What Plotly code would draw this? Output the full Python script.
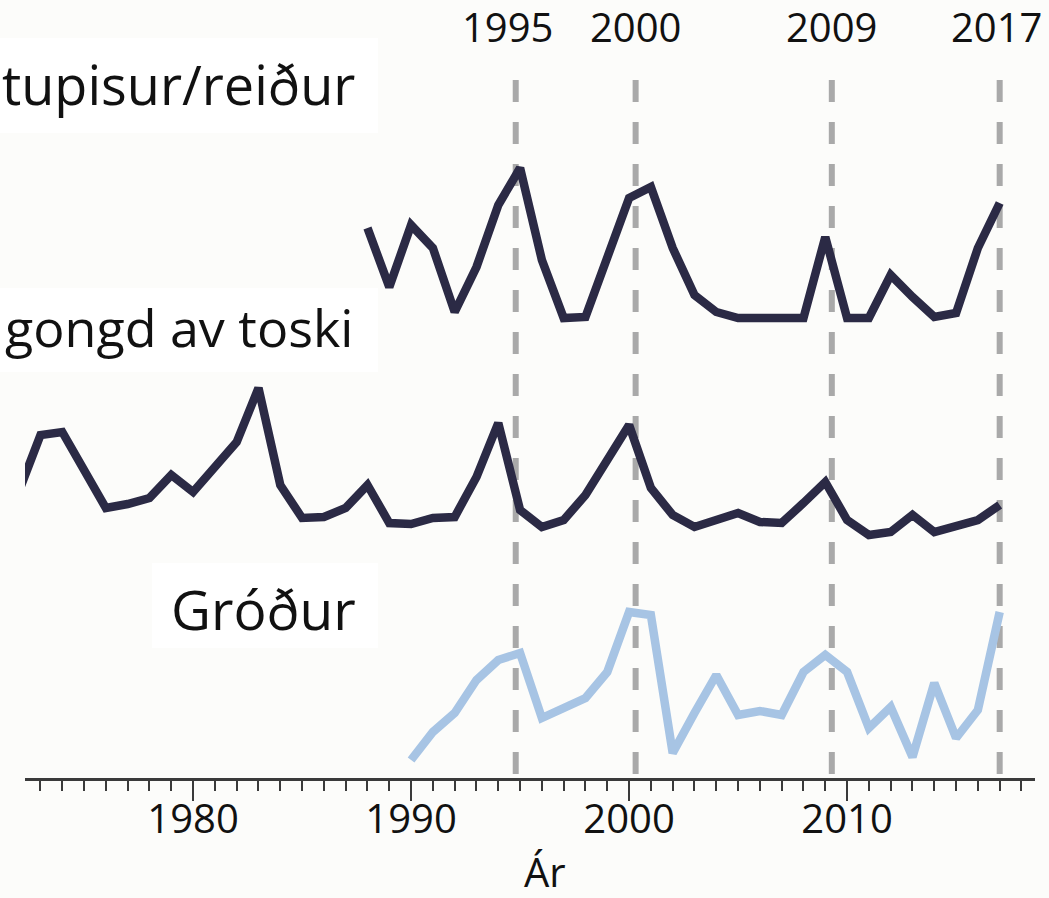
import plotly.graph_objects as go

# ---- data (heights, arbitrary index units above the axis) ----
years_top = list(range(1988, 2018))
top_vals = [550, 491, 553, 530, 466, 511, 573, 610, 518, 460, 461, 521, 580, 591,
            530, 483, 466, 460, 460, 460, 460, 541, 460, 460, 503, 481, 461, 465,
            530, 575]

years_mid = list(range(1972, 2018))
mid_vals = [286, 343, 346, 308, 270, 274, 280, 303, 286, 311, 336, 390, 293, 260,
            261, 270, 293, 255, 254, 260, 261, 301, 355, 268, 251, 258, 283, 318,
            353, 290, 263, 251, 258, 265, 256, 255, 275, 296, 258, 243, 246, 263,
            246, 251, 258, 273]

years_bot = list(range(1990, 2018))
bot_vals = [18, 46, 65, 98, 118, 125, 60, 71, 80, 106, 166, 163, 25, 65, 103, 63,
            67, 63, 106, 123, 106, 50, 71, 21, 95, 40, 68, 166]

event_x = [1994.8, 2000.3, 2009.3, 2017.0]
event_labels = ["1995", "2000", "2009", "2017"]
event_label_shift = [-8, 0, 0, -3]

series_labels = ["tupisur/reiður", "gongd av toski", "Gróður"]

xtick_vals = [1980, 1990, 2000, 2010]
xtick_text = ["1980", "1990", "2000", "2010"]

# ---- figure ----
W, H = 1049, 898
ML, MR, MT, MB = 25, 14, 0, 120
PH = H - MT - MB  # plot height in px (778)
PW = W - ML - MR

DARK = "#2b2a45"
LIGHT = "#a7c4e4"
DASH = "#a9a9a9"
BG = "#fcfcfa"
FONT = "Open Sans, Lato, sans-serif"

fig = go.Figure()
fig.add_trace(go.Scatter(x=years_top, y=top_vals, mode="lines",
                         line=dict(color=DARK, width=8.5), showlegend=False, cliponaxis=False))
fig.add_trace(go.Scatter(x=years_mid, y=mid_vals, mode="lines",
                         line=dict(color=DARK, width=8.5), showlegend=False, cliponaxis=False))
fig.add_trace(go.Scatter(x=years_bot, y=bot_vals, mode="lines",
                         line=dict(color=LIGHT, width=8.5), showlegend=False, cliponaxis=False))

def px_x(p):
    return (p - ML) / PW

def px_y(p):
    return (PH - (p - MT)) / PH

shapes = []
# white label boxes
for (x0, y0, x1, y1) in [(0, 38, 378, 133), (0, 288, 378, 372), (152, 563, 378, 648)]:
    shapes.append(dict(type="rect", xref="paper", yref="paper",
                       x0=px_x(x0), x1=px_x(x1), y0=px_y(y1), y1=px_y(y0),
                       fillcolor="white", line=dict(width=0), layer="below"))
# dashed event lines
for ex in event_x:
    shapes.append(dict(type="line", xref="x", yref="paper",
                       x0=ex, x1=ex, y0=px_y(80), y1=px_y(776),
                       line=dict(color=DASH, width=6, dash="22px,20px"), layer="below"))

annotations = []
for ex, lab, sh in zip(event_x, event_labels, event_label_shift):
    annotations.append(dict(x=ex, y=px_y(27), xref="x", yref="paper", text=lab,
                            showarrow=False, xanchor="center", yanchor="middle",
                            xshift=sh, font=dict(family=FONT, size=40, color="#111")))

label_pos = [(357, 84), (355, 326), (358, 608)]
label_sizes = [54, 52, 55]
for lab, (lx, ly), fs in zip(series_labels, label_pos, label_sizes):
    annotations.append(dict(x=px_x(lx), y=px_y(ly), xref="paper", yref="paper", text=lab,
                            showarrow=False, xanchor="right", yanchor="middle",
                            font=dict(family=FONT, size=fs, color="#111")))

annotations.append(dict(x=px_x(545), y=px_y(871), xref="paper", yref="paper", text="Ár",
                        showarrow=False, xanchor="center", yanchor="middle",
                        font=dict(family=FONT, size=40, color="#111")))

fig.update_layout(
    width=W, height=H,
    margin=dict(l=ML, r=MR, t=MT, b=MB),
    paper_bgcolor=BG, plot_bgcolor=BG,
    shapes=shapes, annotations=annotations,
    xaxis=dict(range=[1972.29, 2018.62], showgrid=False, zeroline=False,
               showline=True, linecolor="#3a3a3a", linewidth=2.5,
               ticks="outside", ticklen=20, tickwidth=2, tickcolor="#3a3a3a",
               tickvals=xtick_vals, ticktext=xtick_text, ticklabelstandoff=-16,
               tickfont=dict(family=FONT, size=40, color="#111"),
               minor=dict(dtick=1, tick0=1980, ticks="outside", ticklen=10,
                          tickwidth=2, tickcolor="#3a3a3a", showgrid=False),
               fixedrange=True),
    yaxis=dict(range=[0, PH], visible=False, fixedrange=True),
)

fig.write_html("out.html", config={"displayModeBar": False},
               post_script="document.body.style.margin='0';document.body.style.overflow='hidden';")
